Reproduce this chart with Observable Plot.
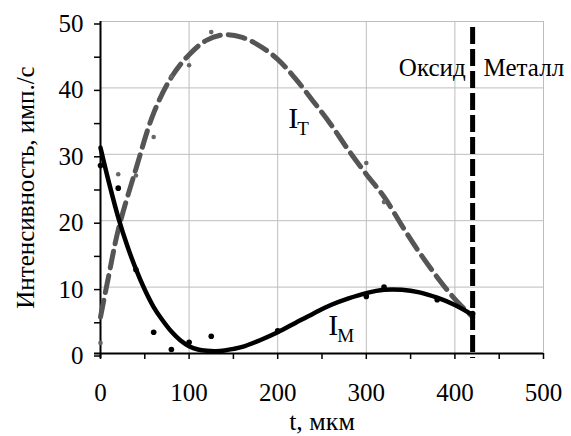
<!DOCTYPE html>
<html><head><meta charset="utf-8">
<script src="https://cdn.jsdelivr.net/npm/d3@7"></script>
<script src="https://cdn.jsdelivr.net/npm/@observablehq/plot@0.6"></script>
<style>body{margin:0;background:#fff} svg{display:block;}</style>
</head><body><div id="chart"></div>
<script>
// Axis ticks
const xTickValues = [0, 100, 200, 300, 400, 500];
const xMinorTicks = [0, 50, 100, 150, 200, 250, 300, 350, 400, 450, 500];
const yTickValues = [0, 10, 20, 30, 40, 50];
const yMinorTicks = [0, 5, 10, 15, 20, 25, 30, 35, 40, 45, 50];
const xLabel = "t, мкм";
const yLabel = "Интенсивность, имп./с";

// Measured points
const itPointT = [0, 20, 40, 60, 80, 100, 125, 300, 320, 420, 420];
const itPointV = [1.6, 27.0, 26.8, 32.6, 41.7, 43.4, 48.4, 28.7, 22.8, 8.3, 5.0];
const imPointT = [0, 20, 40, 60, 80, 100, 125, 200, 300, 320, 380, 420];
const imPointV = [28.3, 24.9, 12.6, 3.2, 0.6, 1.7, 2.6, 3.4, 8.6, 10.0, 8.1, 6.0];

// Fitted curves
const imCurveT = [0,10,20,30,40,50,60,70,80,90,100,110,120,130,140,150,160,180,200,220,240,260,280,300,320,340,360,380,400,420];
const imCurveV = [31.0,25.5,20.5,16.3,12.7,9.6,7.0,5.0,3.3,2.0,1.1,0.6,0.4,0.35,0.45,0.7,1.0,2.0,3.2,4.6,6.0,7.3,8.3,9.1,9.6,9.6,9.2,8.4,7.3,5.8];
const itCurveT = [0,10,20,40,60,80,100,120,140,160,180,200,220,240,260,280,300,320,340,360,380,400,420];
const itCurveV = [5.5,12.2,18.6,27.8,36.2,41.6,45.0,47.2,48.0,47.6,46.3,44.3,41.4,38.0,34.5,30.6,27.0,23.6,19.3,15.2,11.5,8.2,5.5];

// Boundary oxide / metal
const boundaryT = 420;
const boundaryLabelV = 41.8;
const regionLeft = "Оксид";
const regionRight = "Металл";

// Curve labels
const curveLabels = [
  {main: "I", sub: "Т", t: 212, v: 34},
  {main: "I", sub: "М", t: 257, v: 2.75}
];

const zip = (ts, vs) => ts.map((t, i) => ({t, v: vs[i]}));
const itPoints = zip(itPointT, itPointV);
const imPoints = zip(imPointT, imPointV);
const imCurve = zip(imCurveT, imCurveV);
const itCurve = zip(itCurveT, itCurveV);

const FF = "Times New Roman, Liberation Serif, Tinos, DejaVu Serif, serif";

const chart = Plot.plot({
  width: 571,
  height: 436,
  marginLeft: 100,
  marginRight: 28,
  marginTop: 21,
  marginBottom: 83,
  x: {domain: [0, 500]},
  y: {domain: [0, 50]},
  style: {fontSize: "24px", color: "black", background: "white"},
  marks: [
    Plot.gridX(xTickValues.filter(d => d > 0), {stroke: "#bdbdbd", strokeOpacity: 1, strokeWidth: 1}),
    Plot.gridY(yTickValues.filter(d => d > 0), {stroke: "#bdbdbd", strokeOpacity: 1, strokeWidth: 1}),
    Plot.axisX(xMinorTicks, {tickSize: 6, tickPadding: 24, strokeWidth: 1.5, fontSize: 25, fontFamily: FF,
      tickFormat: d => xTickValues.includes(d) ? String(d) : "", label: null}),
    Plot.axisY(yMinorTicks, {tickSize: 6, tickPadding: 11, strokeWidth: 1.5, fontSize: 25, fontFamily: FF, dy: 2.5,
      tickFormat: d => yTickValues.includes(d) ? String(d) : "", label: null}),
    Plot.ruleY([0], {stroke: "black", strokeWidth: 2, insetLeft: -6}),
    Plot.ruleX([0], {stroke: "black", strokeWidth: 2, insetBottom: -5}),
    Plot.text([xLabel], {frameAnchor: "bottom", textAnchor: "middle", dy: 76, lineAnchor: "bottom", fontSize: 26, fontFamily: FF}),
    Plot.text([yLabel], {frameAnchor: "left", textAnchor: "middle", rotate: -90, dx: -67, lineAnchor: "bottom", fontSize: 25, fontFamily: FF}),
    Plot.line(itCurve, {x: "t", y: "v", stroke: "#555", strokeWidth: 5, strokeDasharray: "17,8", curve: "catmull-rom"}),
    Plot.line(imCurve, {x: "t", y: "v", stroke: "black", strokeWidth: 4.5, curve: "catmull-rom"}),
    Plot.dot(itPoints, {x: "t", y: "v", r: 2.3, fill: "#666", stroke: "none"}),
    Plot.dot(imPoints, {x: "t", y: "v", r: 2.8, fill: "black", stroke: "none"}),
    Plot.ruleX([boundaryT], {stroke: "black", strokeWidth: 5, strokeDasharray: "17,5", insetTop: 6, insetBottom: -5}),
    Plot.text([regionLeft], {x: () => boundaryT, y: () => boundaryLabelV, textAnchor: "end", lineAnchor: "bottom", dx: -7, fontSize: 25, fontFamily: FF}),
    Plot.text([regionRight], {x: () => boundaryT, y: () => boundaryLabelV, textAnchor: "start", lineAnchor: "bottom", dx: 11, fontSize: 25, fontFamily: FF}),
    Plot.text(curveLabels, {x: "t", y: "v", text: "main", textAnchor: "start", lineAnchor: "bottom", fontSize: 30, fontFamily: FF}),
    Plot.text(curveLabels, {x: "t", y: "v", text: "sub", textAnchor: "start", lineAnchor: "bottom", dx: 9, dy: 7, fontSize: 19, fontFamily: FF})
  ]
});
document.getElementById("chart").appendChild(chart);
</script>
</body></html>
